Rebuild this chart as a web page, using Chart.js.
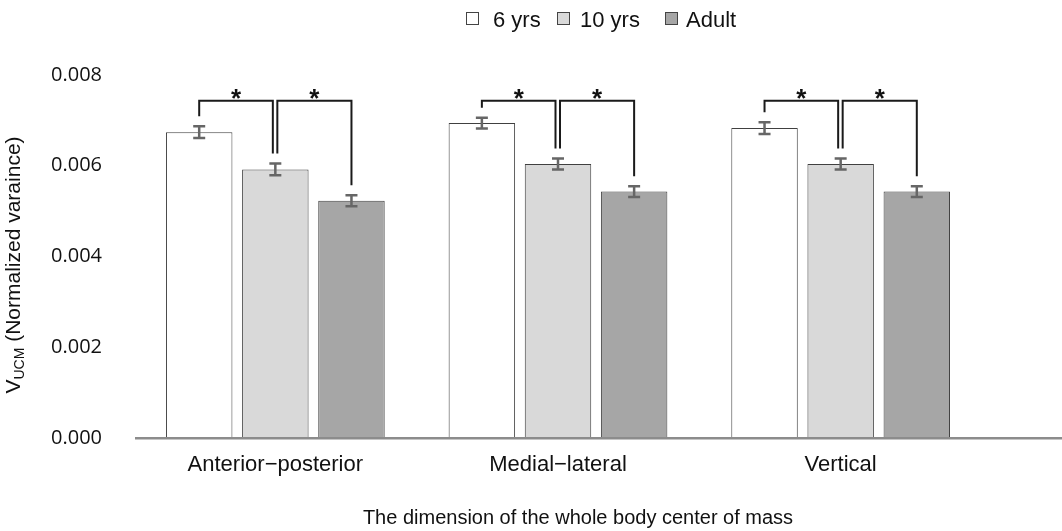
<!DOCTYPE html>
<html>
<head>
<meta charset="utf-8">
<script src="https://cdn.jsdelivr.net/npm/chart.js@4"></script>
<style>
html,body{margin:0;padding:0;background:#fff;}
#wrap{width:1062px;height:531px;position:relative;}
</style>
</head>
<body>
<div id="wrap"><canvas id="c"></canvas></div>
<script>
// ---- data ----
const categories = ['Anterior\u2212posterior', 'Medial\u2212lateral', 'Vertical'];
const seriesLabels = ['6 yrs', '10 yrs', 'Adult'];
const sixYrs = [0.00674, 0.00694, 0.00683];
const tenYrs = [0.00592, 0.00604, 0.00604];
const adult  = [0.00523, 0.00543, 0.00543];
const sixErr = [0.00013, 0.00012, 0.00013];
const tenErr = [0.00013, 0.00012, 0.00012];
const adultErr = [0.00012, 0.00012, 0.00012];
const yTicks = [0, 0.002, 0.004, 0.006, 0.008];
const bracketPairs = [[0, 1], [1, 2]];
const bracketTop = [0.00743, 0.00743, 0.00743];
const bracketMark = '*';
const xTitle = 'The dimension of the whole body center of mass';
const yTitleMain = 'V';
const yTitleSub = 'UCM';
const yTitleRest = ' (Normalized varaince)';

const errs = [sixErr, tenErr, adultErr];
const fills = ['#ffffff', '#d9d9d9', '#a6a6a6'];

const annot = {
  id: 'annot',
  afterDatasetsDraw(chart) {
    const ctx = chart.ctx;
    const ys = chart.scales.y;
    // error bars
    ctx.save();
    ctx.strokeStyle = '#666666';
    ctx.lineWidth = 2.5;
    chart.data.datasets.forEach((ds, di) => {
      const meta = chart.getDatasetMeta(di);
      meta.data.forEach((bar, i) => {
        const v = ds.data[i], e = errs[di][i];
        const yt = ys.getPixelForValue(v + e), yb = ys.getPixelForValue(v - e);
        const x = bar.x;
        ctx.beginPath();
        ctx.moveTo(x, yt); ctx.lineTo(x, yb);
        ctx.moveTo(x - 6, yt); ctx.lineTo(x + 6, yt);
        ctx.moveTo(x - 6, yb); ctx.lineTo(x + 6, yb);
        ctx.stroke();
      });
    });
    ctx.restore();
    // brackets
    ctx.save();
    ctx.strokeStyle = '#1a1a1a';
    ctx.lineWidth = 2;
    ctx.fillStyle = '#111';
    ctx.font = 'bold 26px "Liberation Sans", Arial, sans-serif';
    ctx.textAlign = 'center';
    ctx.textBaseline = 'alphabetic';
    categories.forEach((c, i) => {
      const top = ys.getPixelForValue(bracketTop[i]);
      bracketPairs.forEach(([a, b]) => {
        const ba = chart.getDatasetMeta(a).data[i];
        const bb = chart.getDatasetMeta(b).data[i];
        const xa = ba.x + (a === 1 ? 2 : 0);
        const xb = bb.x - (b === 1 ? 2.5 : 0);
        const va = chart.data.datasets[a].data[i] + errs[a][i];
        const vb = chart.data.datasets[b].data[i] + errs[b][i];
        const ya = ys.getPixelForValue(va) - 10;
        const yb = ys.getPixelForValue(vb) - 10;
        ctx.beginPath();
        ctx.moveTo(xa, ya); ctx.lineTo(xa, top); ctx.lineTo(xb, top); ctx.lineTo(xb, yb);
        ctx.stroke();
        ctx.fillText(bracketMark, (xa + xb) / 2, top + 6);
      });
    });
    ctx.restore();
    // baseline
    ctx.save();
    ctx.strokeStyle = '#8c8c8c';
    ctx.lineWidth = 2.5;
    const y0 = ys.getPixelForValue(0) + 0.3;
    ctx.beginPath();
    ctx.moveTo(135, y0); ctx.lineTo(chart.width, y0);
    ctx.stroke();
    ctx.restore();
  },
  afterDraw(chart) {
    const ctx = chart.ctx;
    // legend
    ctx.save();
    const boxX = [466, 557, 665];
    const textX = [493, 580, 686];
    ctx.font = '22px "Liberation Sans", Arial, sans-serif';
    ctx.textBaseline = 'alphabetic';
    ctx.textAlign = 'left';
    seriesLabels.forEach((lab, i) => {
      ctx.fillStyle = chart.data.datasets[i].backgroundColor;
      ctx.fillRect(boxX[i] + 0.5, 12.5, 12, 12);
      ctx.strokeStyle = '#444';
      ctx.lineWidth = 1;
      ctx.strokeRect(boxX[i] + 0.5, 12.5, 12, 12);
      ctx.fillStyle = '#111';
      ctx.fillText(lab, textX[i], 27);
    });
    ctx.restore();
    // x title
    ctx.save();
    ctx.font = '20px "Liberation Sans", Arial, sans-serif';
    ctx.fillStyle = '#111';
    ctx.textAlign = 'center';
    ctx.textBaseline = 'alphabetic';
    ctx.fillText(xTitle, 578, 524);
    ctx.restore();
    // y title with subscript
    ctx.save();
    const fMain = '21px "Liberation Sans", Arial, sans-serif';
    const fSub = '14px "Liberation Sans", Arial, sans-serif';
    ctx.font = fMain; const w1 = ctx.measureText(yTitleMain).width;
    const w3 = ctx.measureText(yTitleRest).width;
    ctx.font = fSub; const w2 = ctx.measureText(yTitleSub).width;
    const total = w1 + w2 + w3;
    ctx.translate(20, 265);
    ctx.rotate(-Math.PI / 2);
    ctx.fillStyle = '#111';
    ctx.textBaseline = 'alphabetic';
    ctx.textAlign = 'left';
    let x = -total / 2;
    ctx.font = fMain; ctx.fillText(yTitleMain, x, 0); x += w1;
    ctx.font = fSub; ctx.fillText(yTitleSub, x, 4); x += w2;
    ctx.font = fMain; ctx.fillText(yTitleRest, x, 0);
    ctx.restore();
  }
};

new Chart(document.getElementById('c'), {
  type: 'bar',
  data: {
    labels: categories,
    datasets: [
      { label: seriesLabels[0], data: sixYrs, backgroundColor: fills[0], borderColor: '#404040', borderWidth: 1 },
      { label: seriesLabels[1], data: tenYrs, backgroundColor: fills[1], borderColor: '#404040', borderWidth: 1 },
      { label: seriesLabels[2], data: adult, backgroundColor: fills[2], borderColor: '#404040', borderWidth: 1 }
    ]
  },
  options: {
    responsive: true,
    maintainAspectRatio: false,
    animation: false,
    categoryPercentage: 0.808,
    barPercentage: 0.873,
    layout: { padding: { top: 75, right: 80, left: 0, bottom: 0 } },
    plugins: { legend: { display: false }, tooltip: { enabled: false } },
    scales: {
      x: {
        grid: { display: false, drawTicks: false },
        border: { display: false },
        ticks: { color: '#111', padding: 14, font: { family: '"Liberation Sans", Arial, sans-serif', size: 22 } },
        afterFit: s => { s.height = 93; }
      },
      y: {
        min: 0, max: 0.008,
        afterBuildTicks: s => { s.ticks = yTicks.map(v => ({ value: v })); },
        grid: { display: false, drawTicks: false },
        border: { display: false },
        ticks: { color: '#111', padding: 32, font: { family: '"Open Sans", sans-serif', size: 20 }, callback: v => v.toFixed(3) },
        afterFit: s => { s.width = 134; }
      }
    }
  },
  plugins: [annot]
});
</script>
</body>
</html>
